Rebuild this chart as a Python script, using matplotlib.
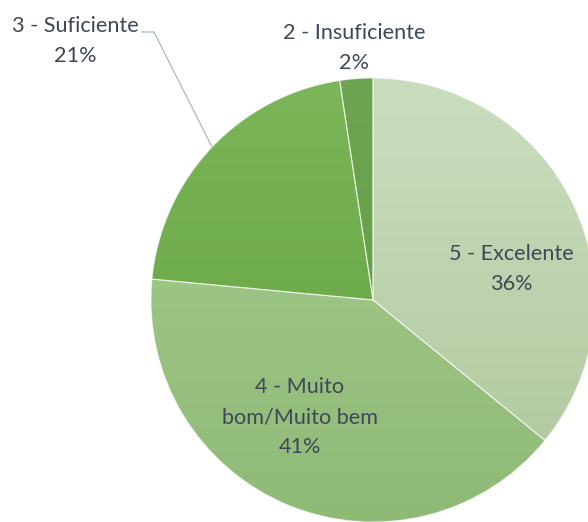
import matplotlib
matplotlib.use('Agg')
import matplotlib.pyplot as plt
from matplotlib.colors import LinearSegmentedColormap
import numpy as np

# data
categories = ['5 - Excelente', '4 - Muito\nbom/Muito bem', '3 - Suficiente', '2 - Insuficiente']
shares = [35.9, 40.6, 21.1, 2.4]
pct_labels = ['36%', '41%', '21%', '2%']

# styling (top colour, bottom colour of each slice's gradient)
grad_colors = [('#cadebe', '#aec79c'), ('#a8cd90', '#8fba76'),
               ('#7bb65a', '#61a03a'), ('#6ea552', '#5e9b3e')]
text_color = '#3e4858'
# label anchors in pixels from top-left (centre x, baseline of first line)
label_pos = [(511, 260), (300, 393), (75, 32), (354, 39)]
line_gap = 30

W, H = 588, 522
cx, cy, r = 373, H - 300, 222


def main():
    plt.rcParams['font.family'] = ['Lato', 'DejaVu Sans']
    fig = plt.figure(figsize=(W / 100, H / 100), dpi=100)
    ax = fig.add_axes([0, 0, 1, 1])

    wedges, _ = ax.pie(shares, startangle=90, counterclock=False,
                       center=(cx, cy), radius=r,
                       wedgeprops=dict(edgecolor=(1, 1, 1, 0.6), linewidth=0.8))

    grad = np.linspace(0, 1, 256).reshape(-1, 1)
    for w, (top, bot) in zip(wedges, grad_colors):
        cmap = LinearSegmentedColormap.from_list('g', [top, bot])
        im = ax.imshow(grad, cmap=cmap, extent=[cx - r, cx + r, cy - r, cy + r],
                       origin='upper', aspect='auto', zorder=1)
        im.set_clip_path(w)
        w.set_facecolor('none')
        w.set_zorder(2)

    for name, pct, (x, y) in zip(categories, pct_labels, label_pos):
        lines = name.split('\n') + [pct]
        for i, line in enumerate(lines):
            ax.text(x, H - (y + i * line_gap), line, ha='center', va='baseline',
                    fontsize=15.6, color=text_color, zorder=4)

    # leader line for the "Suficiente" label
    ax.plot([142, 154, 212], [H - 32, H - 32, H - 147], color='#b4bec8',
            linewidth=1, zorder=3)

    ax.set_xlim(0, W)
    ax.set_ylim(0, H)
    ax.set_aspect('auto')
    ax.axis('off')
    fig.savefig('out.png', dpi=100, facecolor='white')


if __name__ == '__main__':
    main()
